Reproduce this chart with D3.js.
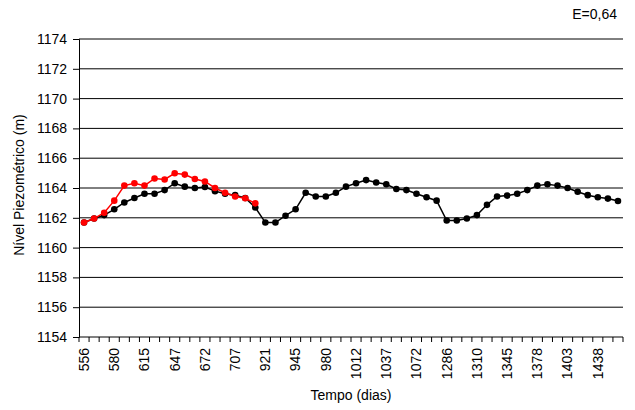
<!DOCTYPE html>
<html>
<head>
<meta charset="utf-8">
<script src="https://cdn.jsdelivr.net/npm/d3@7"></script>
<style>
  body { margin: 0; background: #fff; }
  svg { display: block; font-family: "Liberation Sans", Arial, sans-serif; }
</style>
</head>
<body>
<svg id="chart" width="635" height="410"></svg>
<script>
// Day labels shown on every third category of the time axis
const dayLabels = [556, 580, 615, 647, 672, 707, 921, 945, 980, 1012,
                   1037, 1072, 1286, 1310, 1345, 1378, 1403, 1438];
const categoryCount = 54;
const categories = d3.range(categoryCount);

// Observed piezometric level (black)
const observed = [
  1161.68, 1161.95, 1162.18, 1162.57, 1163.03, 1163.33, 1163.61, 1163.61, 1163.86, 1164.32,
  1164.09, 1164.00, 1164.07, 1163.79, 1163.61, 1163.52, 1163.33, 1162.69, 1161.68, 1161.68,
  1162.14, 1162.57, 1163.68, 1163.43, 1163.43, 1163.68, 1164.09, 1164.32, 1164.53, 1164.37,
  1164.25, 1163.93, 1163.86, 1163.61, 1163.38, 1163.15, 1161.82, 1161.82, 1161.95, 1162.18,
  1162.87, 1163.43, 1163.49, 1163.61, 1163.86, 1164.16, 1164.25, 1164.16, 1164.00, 1163.75,
  1163.52, 1163.38, 1163.29, 1163.13
];

// Simulated piezometric level (red), first 18 periods
const simulated = [
  1161.68, 1161.95, 1162.34, 1163.15, 1164.16, 1164.32, 1164.16, 1164.64, 1164.57, 1164.99,
  1164.90, 1164.60, 1164.44, 1164.00, 1163.68, 1163.43, 1163.31, 1162.97
];

const yTicks = d3.range(1154, 1175, 2);

const svg = d3.select("#chart");
const plotLeft = 79, plotRight = 623, plotTop = 39, plotBottom = 337;
const fontSize = 14;

const x = d3.scaleBand().domain(categories).range([plotLeft, plotRight]).padding(0);
const y = d3.scaleLinear().domain([1154, 1174]).range([plotBottom, plotTop]);
const cx = i => x(i) + x.bandwidth() / 2;

// Horizontal gridlines
svg.append("g")
  .selectAll("line")
  .data(yTicks.filter(v => v !== 1154))
  .join("line")
  .attr("x1", plotLeft).attr("x2", plotRight)
  .attr("y1", d => y(d)).attr("y2", d => y(d))
  .attr("stroke", "#000").attr("stroke-width", 1);

// Y axis
const yAxis = svg.append("g")
  .attr("transform", `translate(${plotLeft},0)`)
  .call(d3.axisLeft(y).tickValues(yTicks).tickSize(6).tickPadding(6).tickFormat(d3.format("d")));
yAxis.select(".domain").attr("stroke", "#000");
yAxis.selectAll(".tick line").attr("stroke", "#000");
yAxis.selectAll("text").attr("font-size", fontSize).attr("fill", "#000")
  .attr("font-family", "Liberation Sans, Arial, sans-serif");

// X axis baseline
svg.append("line")
  .attr("x1", plotLeft).attr("x2", plotRight)
  .attr("y1", plotBottom).attr("y2", plotBottom)
  .attr("stroke", "#000");

// X tick marks at category boundaries
const boundaries = categories.map(i => x(i)).concat([plotRight]);
svg.append("g")
  .selectAll("line")
  .data(boundaries)
  .join("line")
  .attr("x1", d => d).attr("x2", d => d)
  .attr("y1", plotBottom).attr("y2", plotBottom + 5)
  .attr("stroke", "#000");

// X labels, rotated
svg.append("g")
  .selectAll("text")
  .data(dayLabels)
  .join("text")
  .attr("transform", (d, k) => `translate(${cx(k * 3)},${plotBottom + 11}) rotate(-90)`)
  .attr("text-anchor", "end")
  .attr("dy", "0.35em")
  .attr("font-size", fontSize)
  .attr("fill", "#000")
  .text(d => d);

// Axis titles
svg.append("text")
  .attr("x", 351).attr("y", 400)
  .attr("text-anchor", "middle")
  .attr("font-size", fontSize)
  .text("Tempo (dias)");

svg.append("text")
  .attr("transform", "translate(24,185) rotate(-90)")
  .attr("text-anchor", "middle")
  .attr("font-size", fontSize)
  .text("Nível Piezométrico (m)");

svg.append("text")
  .attr("x", 617).attr("y", 19)
  .attr("text-anchor", "end")
  .attr("font-size", 14)
  .text("E=0,64");

// Series
const line = d3.line().x((d, i) => cx(i)).y(d => y(d));

function drawSeries(values, color) {
  const g = svg.append("g");
  g.append("path")
    .datum(values)
    .attr("d", line)
    .attr("fill", "none")
    .attr("stroke", color)
    .attr("stroke-width", 1.5);
  g.selectAll("circle")
    .data(values)
    .join("circle")
    .attr("cx", (d, i) => cx(i))
    .attr("cy", d => y(d))
    .attr("r", 3.3)
    .attr("fill", color);
}

drawSeries(observed, "#000");
drawSeries(simulated, "#ff0000");
</script>
</body>
</html>
